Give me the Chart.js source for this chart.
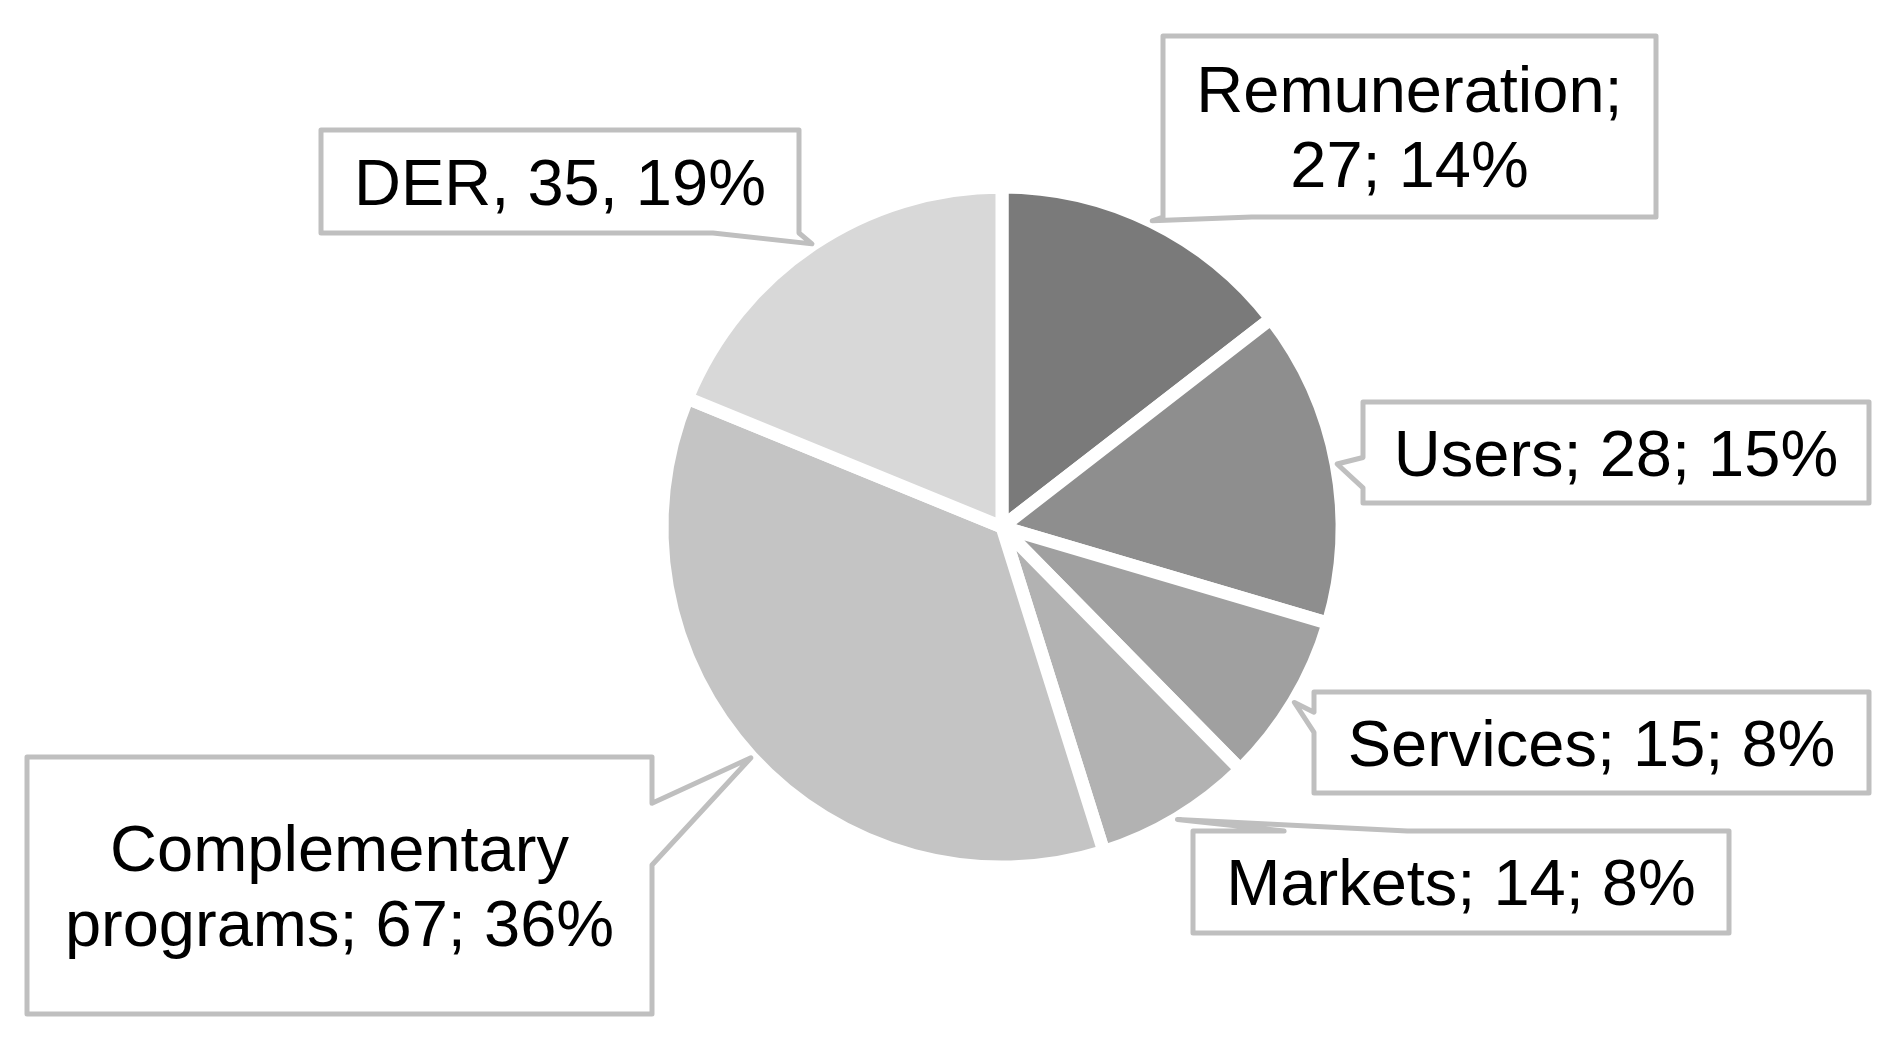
<!DOCTYPE html>
<html>
<head>
<meta charset="utf-8">
<title>Pie chart</title>
<script src="https://cdn.jsdelivr.net/npm/chart.js@4.4.1/dist/chart.umd.min.js"></script>
<style>
  html, body { margin: 0; padding: 0; background: #fff; }
  canvas { display: block; }
</style>
</head>
<body>
<canvas id="myChart" width="1893" height="1046"></canvas>
<script>
// data
const categories = ["Remuneration", "Users", "Services", "Markets", "Complementary programs", "DER"];
const values = [27, 28, 15, 14, 67, 35];
const percents = [14, 15, 8, 8, 36, 19];
const separators = [";", ";", ";", ";", ";", ","];

// styles
const sliceColors = ["#7a7a7a", "#8e8e8e", "#a0a0a0", "#b2b2b2", "#c4c4c4", "#d8d8d8"];

// label boxes: [left, top, right, bottom], edge that carries the pointer, span on that edge
const boxes = [
  { rect: [1163, 36, 1656, 217], edge: "bottom", span: [0, 0.18] },
  { rect: [1363, 402, 1869, 503], edge: "left", span: [0.55, 0.85] },
  { rect: [1314, 692, 1869, 793], edge: "left", span: [0.2, 0.4] },
  { rect: [1193, 831, 1729, 933], edge: "top", span: [0.17, 0.4] },
  { rect: [27, 757, 652, 1014], edge: "right", span: [0.18, 0.42] },
  { rect: [321, 130, 799, 233], edge: "bottom", span: [0.82, 1] },
];

const FONT = "65px 'Liberation Sans', Arial, sans-serif";
const LINE_H = 75;

function wrapText(ctx, text, maxWidth) {
  const words = text.split(" ");
  const lines = [];
  let cur = "";
  words.forEach((w) => {
    const test = cur ? cur + " " + w : w;
    if (cur && ctx.measureText(test).width > maxWidth) {
      lines.push(cur);
      cur = w;
    } else {
      cur = test;
    }
  });
  if (cur) lines.push(cur);
  return lines;
}

function edgePoint(rect, edge, f) {
  const [l, t, r, b] = rect;
  if (edge === "top") return [l + (r - l) * f, t];
  if (edge === "bottom") return [l + (r - l) * f, b];
  if (edge === "left") return [l, t + (b - t) * f];
  return [r, t + (b - t) * f];
}

const calloutPlugin = {
  id: "callouts",
  afterDatasetsDraw(chart) {
    const ctx = chart.ctx;
    const arcs = chart.getDatasetMeta(0).data;
    ctx.save();
    ctx.font = FONT;
    arcs.forEach((arc, i) => {
      const p = arc.getProps(["x", "y", "startAngle", "endAngle", "outerRadius"], true);
      const mid = (p.startAngle + p.endAngle) / 2;
      const tip = [p.x + Math.cos(mid) * (p.outerRadius + 1), p.y + Math.sin(mid) * (p.outerRadius + 1)];
      const box = boxes[i];
      const [l, t, r, b] = box.rect;
      const p1 = edgePoint(box.rect, box.edge, box.span[0]);
      const p2 = edgePoint(box.rect, box.edge, box.span[1]);

      const pts = [[l, t]];
      if (box.edge === "top") pts.push(p1, tip, p2);
      pts.push([r, t]);
      if (box.edge === "right") pts.push(p1, tip, p2);
      pts.push([r, b]);
      if (box.edge === "bottom") pts.push(p2, tip, p1);
      pts.push([l, b]);
      if (box.edge === "left") pts.push(p2, tip, p1);

      ctx.beginPath();
      pts.forEach((pt, k) => (k === 0 ? ctx.moveTo(pt[0], pt[1]) : ctx.lineTo(pt[0], pt[1])));
      ctx.closePath();
      ctx.fillStyle = "#ffffff";
      ctx.fill();
      ctx.lineWidth = 5;
      ctx.lineJoin = "round";
      ctx.strokeStyle = "#bfbfbf";
      ctx.stroke();

      // label text
      const sep = separators[i];
      const text = categories[i] + sep + " " + values[i] + sep + " " + percents[i] + "%";
      const lines = wrapText(ctx, text, r - l - 30);
      const cx = (l + r) / 2;
      const cy = (t + b) / 2;
      ctx.fillStyle = "#000000";
      ctx.textAlign = "center";
      ctx.textBaseline = "alphabetic";
      lines.forEach((line, k) => {
        const yy = cy - ((lines.length - 1) * LINE_H) / 2 + k * LINE_H + 23;
        ctx.fillText(line, cx, yy);
      });
    });
    ctx.restore();
  },
};

// config
const config = {
  type: "pie",
  data: {
    labels: categories,
    datasets: [
      {
        data: values,
        backgroundColor: sliceColors,
        borderColor: "#ffffff",
        borderWidth: 13,
      },
    ],
  },
  options: {
    responsive: false,
    animation: false,
    events: [],
    radius: 340,
    layout: { padding: { left: 111, right: 0, top: 8, bottom: 0 } },
    plugins: {
      legend: { display: false },
      tooltip: { enabled: false },
    },
  },
  plugins: [calloutPlugin],
};

// render init block
const myChart = new Chart(document.getElementById("myChart"), config);
</script>
</body>
</html>
